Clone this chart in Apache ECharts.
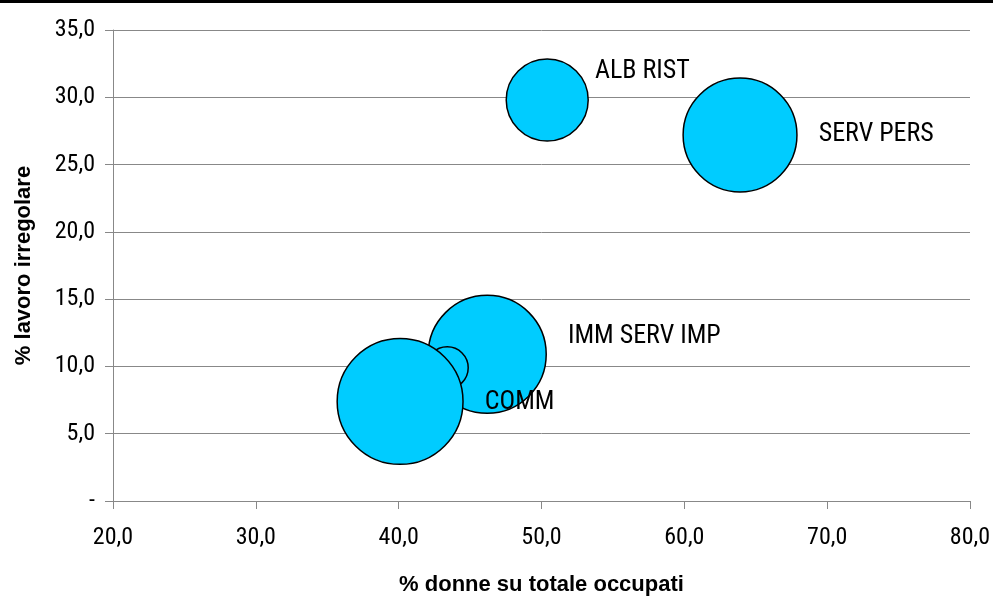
<!DOCTYPE html>
<html><head><meta charset="utf-8">
<script src="https://cdn.jsdelivr.net/npm/echarts@6/dist/echarts.min.js"></script>
<style>html,body{margin:0;padding:0;background:#fff}#c{width:993px;height:597px}</style>
</head><body><div id="c"></div>
<script>
const names = ['ALB RIST', 'SERV PERS', 'IMM SERV IMP', '', 'COMM'];
const womenShare = [50.4, 63.9, 46.2, 43.4, 40.1];
const irregular = [29.8, 27.2, 10.9, 9.9, 7.4];
const bubbleSize = [4.2, 8.1, 8.7, 1.1, 9.9];
const labelOffsets = [[-15, -28], [0, 0], [0, -18], [0, 1], [0, 1]];
const xTicks = [20, 30, 40, 50, 60, 70, 80];
const yTicks = [0, 5, 10, 15, 20, 25, 30, 35];

const font = '"Roboto Condensed", "Liberation Sans", Arial, sans-serif';
const titleFont = '"Liberation Sans", Arial, sans-serif';
const fmt = v => v === 0 ? '-' : v.toFixed(1).replace('.', ',');

const data = names.map((n, i) => ({
  name: n,
  value: [womenShare[i], irregular[i], bubbleSize[i]],
  label: { show: n !== '', offset: labelOffsets[i] }
}));

const chart = echarts.init(document.getElementById('c'));
chart.setOption({
  animation: false,
  grid: { left: 113, right: 23, top: 30, bottom: 96, containLabel: false, outerBoundsMode: 'none' },
  graphic: [{ type: 'rect', shape: { x: 0, y: 0, width: 993, height: 3 }, style: { fill: '#000' } }],
  xAxis: {
    type: 'value', min: 20, max: 80, interval: 10,
    name: '% donne su totale occupati', nameLocation: 'middle', nameGap: 73,
    nameTextStyle: { fontFamily: titleFont, fontSize: 22, fontWeight: 'bold', color: '#000' },
    axisLine: { lineStyle: { color: '#888', width: 1 } },
    axisTick: { show: true, length: 8, lineStyle: { color: '#888' } },
    axisLabel: { fontFamily: font, fontSize: 24, color: '#000', margin: 25, formatter: fmt },
    splitLine: { show: false }
  },
  yAxis: {
    type: 'value', min: 0, max: 35, interval: 5,
    name: '% lavoro irregolare', nameLocation: 'middle', nameGap: 78,
    nameTextStyle: { fontFamily: titleFont, fontSize: 22, fontWeight: 'bold', color: '#000' },
    axisLine: { show: true, lineStyle: { color: '#888', width: 1 } },
    axisTick: { show: true, length: 8, lineStyle: { color: '#888' } },
    axisLabel: { fontFamily: font, fontSize: 24, color: '#000', margin: 18, formatter: fmt },
    splitLine: { show: true, lineStyle: { color: '#888', width: 1 } }
  },
  series: [{
    type: 'scatter',
    data: data,
    symbolSize: v => 40 * Math.sqrt(v[2]),
    itemStyle: { color: '#00CCFF', borderColor: '#000', borderWidth: 1.5, opacity: 1 },
    label: {
      position: 'right', distance: 21, formatter: p => p.name,
      fontFamily: font, fontSize: 26, color: '#000'
    }
  }]
});
</script></body></html>
